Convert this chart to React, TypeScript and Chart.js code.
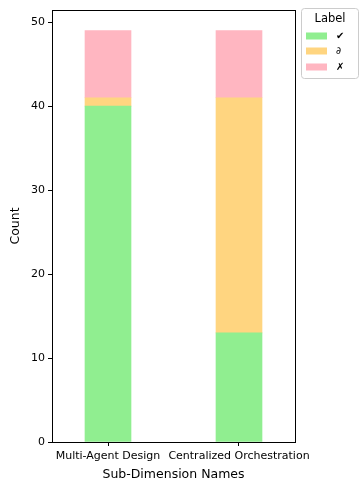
import React, { useEffect, useRef } from "react";
import { Chart, registerables } from "chart.js";

Chart.register(...registerables);

const categories = ["Multi-Agent Design", "Centralized Orchestration"];
const labels = ["✔", "∂", "✗"];
const checkValues = [40, 13];
const partialValues = [1, 28];
const crossValues = [8, 8];
const colors = ["#90EE90", "#FFD580", "#FFB6C1"];
const yTicks = [0, 10, 20, 30, 40, 50];

const FONT = "'DejaVu Sans', sans-serif";

const framePlugin = {
  id: "frame",
  afterDraw(chart: any) {
    const { ctx, chartArea: a } = chart;
    ctx.save();
    ctx.strokeStyle = "#000";
    ctx.lineWidth = 1;
    ctx.strokeRect(Math.round(a.left) + 0.5, Math.round(a.top) + 0.5, Math.round(a.right - a.left), Math.round(a.bottom - a.top));
    // legend
    const lx = 301.5, ly = 8.5, lw = 57, lh = 70;
    ctx.strokeStyle = "#cccccc";
    ctx.fillStyle = "rgba(255,255,255,0.8)";
    ctx.beginPath();
    (ctx as any).roundRect(lx, ly, lw, lh, 3);
    ctx.fill();
    ctx.stroke();
    ctx.fillStyle = "#000";
    ctx.font = `11.5px ${FONT}`;
    ctx.textAlign = "center";
    ctx.textBaseline = "middle";
    ctx.fillText("Label", lx + lw / 2, 19);
    const rows = [36, 51, 67];
    labels.forEach((lab, i) => {
      ctx.fillStyle = colors[i];
      ctx.fillRect(306, rows[i] - 3.5, 21, 7);
      ctx.fillStyle = "#000";
      ctx.font = `10px ${FONT}`;
      ctx.textAlign = "left";
      ctx.fillText(lab, 336, rows[i] + 0.5);
    });
    ctx.restore();
  },
};

export default function App() {
  const ref = useRef<HTMLCanvasElement>(null);
  useEffect(() => {
    document.body.style.margin = "0";
    const mk = (label: string, vals: number[], c: string) => ({
      label,
      data: vals.map((v, i) => ({ x: i, y: v })),
      backgroundColor: c,
      borderWidth: 0,
      barThickness: 46,
    });
    const chart = new Chart(ref.current!, {
      type: "bar",
      data: {
        datasets: [
          mk(labels[0], checkValues, colors[0]),
          mk(labels[1], partialValues, colors[1]),
          mk(labels[2], crossValues, colors[2]),
        ],
      },
      options: {
        animation: false,
        responsive: false,
        layout: { padding: { top: 10, right: 65, left: 0, bottom: 0 } },
        plugins: { legend: { display: false }, tooltip: { enabled: false } },
        scales: {
          x: {
            type: "linear",
            stacked: true,
            offset: false,
            min: -0.4275,
            max: 1.4275,
            afterBuildTicks: (s: any) => {
              s.ticks = [{ value: 0 }, { value: 1 }];
            },
            afterFit: (s: any) => {
              s.height = 48;
            },
            grid: { display: true, offset: false, drawOnChartArea: false, drawTicks: true, tickLength: 4, color: "#000" },
            border: { display: true, color: "#000" },
            ticks: {
              color: "#000",
              font: { family: FONT, size: 11 },
              padding: 4,
              maxRotation: 0,
              autoSkip: false,
              callback: (v: any) => categories[v as number] ?? "",
            },
            title: { display: true, text: "Sub-Dimension Names", color: "#000", font: { family: FONT, size: 12.5 }, padding: { top: 0, bottom: 8 } },
          },
          y: {
            stacked: true,
            min: 0,
            max: 51.45,
            afterBuildTicks: (s: any) => {
              s.ticks = yTicks.map((v) => ({ value: v }));
            },
            afterFit: (s: any) => {
              s.width = 52;
            },
            grid: { display: true, drawOnChartArea: false, drawTicks: true, tickLength: 4, color: "#000" },
            border: { display: true, color: "#000" },
            ticks: { color: "#000", font: { family: FONT, size: 11 }, padding: 3 },
            title: { display: true, text: "Count", color: "#000", font: { family: FONT, size: 12.5 }, padding: { top: 8, bottom: 4 } },
          },
        },
      },
      plugins: [framePlugin],
    } as any);
    return () => chart.destroy();
  }, []);
  return (
    <div style={{ width: 360, height: 490 }}>
      <canvas ref={ref} width={360} height={490} style={{ display: "block" }} />
    </div>
  );
}
